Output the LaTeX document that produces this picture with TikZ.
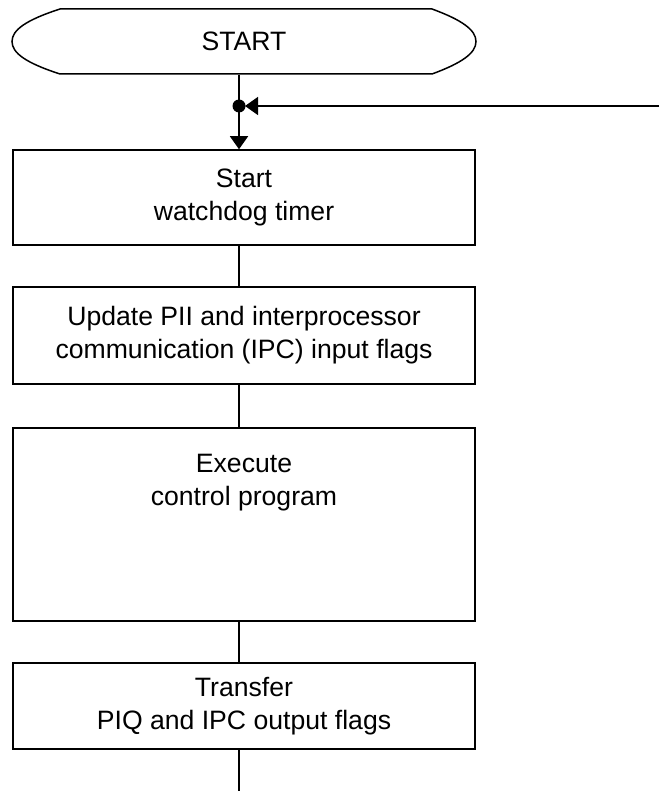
\documentclass[tikz,border=0pt]{standalone}
\usepackage{fontspec}
\setmainfont{Liberation Sans}
\usetikzlibrary{arrows.meta}
\begin{document}
\begin{tikzpicture}[x=1pt,y=-1pt,
  line width=1.5pt,
  flowtext/.style={font=\fontsize{26.6}{33}\selectfont, align=center, inner sep=0pt},
  procbox/.style={draw, rectangle, minimum width=462pt, inner sep=0pt, flowtext},
  flow/.style={line width=1.5pt},
  arr/.style={-{Triangle[length=13pt,width=18pt]}}
]
\useasboundingbox (0,0) rectangle (659,791);

% terminator
\node[flowtext, minimum width=464pt, minimum height=65pt] (start) at (244,41.5) {START};
\draw (60,9) -- (432,9)
  .. controls (462,20) and (476,30) .. (476,41.5)
  .. controls (476,53) and (462,63) .. (432,74)
  -- (60,74)
  .. controls (26,63) and (12,53) .. (12,41.5)
  .. controls (12,30) and (26,20) .. (60,9) -- cycle;

% junction of the loop-back line
\coordinate (j) at (239,106);
\coordinate (r) at (659,106);

% process boxes
\node[procbox, minimum height=95pt] (b1) at (244,197.5) {Start\\watchdog timer};
\node[procbox, minimum height=97pt] (b2) at (244,335.5) {Update PII and interprocessor\\communication (IPC) input flags};
\node[procbox, minimum height=193pt] (b3) at (244,524.5) {};
\node[flowtext] (b3t) at (244,483) {Execute\\control program};
\node[procbox, minimum height=86pt] (b4) at (244,706) {Transfer\\PIQ and IPC output flags};
\coordinate (e) at (239,791);

% connectors
\draw[flow] (start.south -| j) -- (j);
\fill (j) circle (6.5pt);
\draw[flow, arr, shorten >=6pt] (r) -- (j);
\draw[flow, arr] (j) -- (b1.north -| j);
\draw[flow] (b1.south -| j) -- (b2.north -| j);
\draw[flow] (b2.south -| j) -- (b3.north -| j);
\draw[flow] (b3.south -| j) -- (b4.north -| j);
\draw[flow] (b4.south -| j) -- (e);
\end{tikzpicture}
\end{document}
